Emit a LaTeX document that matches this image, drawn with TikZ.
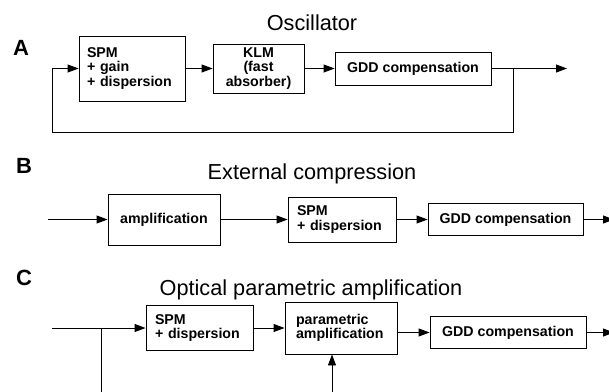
\documentclass[tikz,border=0pt]{standalone}
\usepackage{fontspec}
\setmainfont{Liberation Sans}
\usetikzlibrary{arrows.meta}
\hyphenpenalty=10000
\exhyphenpenalty=10000
\begin{document}
\begin{tikzpicture}[x=1pt,y=-1pt,
  box/.style={draw, line width=0.9pt, inner sep=0pt, font=\bfseries\fontsize{14.2}{14.5}\selectfont},
  conn/.style={line width=0.9pt, -{Triangle[length=11pt,width=8pt]}},
  wire/.style={line width=0.9pt},
  title/.style={font=\fontsize{21.7}{24}\selectfont},
  panel/.style={font=\bfseries\fontsize{22}{24}\selectfont}]
\useasboundingbox (0,0) rectangle (609,391);

% ---------- A ----------
\node[panel] (lA) at (21,48) {A};
\node[title] (tA) at (312,23) {Oscillator};
\node[box, minimum width=106pt, minimum height=65pt, text width=90pt, align=left] (spmA) at (132,68.5) {SPM\\+ gain\\+ dispersion};
\node[box, minimum width=91pt, minimum height=49pt, align=center] (klm) at (258.5,68.5) {KLM\\(fast\\absorber)};
\node[box, minimum width=156pt, minimum height=33pt, align=center] (gddA) at (413,68.5) {GDD compensation};
\coordinate (aL) at (52,68.5);
\coordinate (aJ) at (513,68.5);
\coordinate (aOut) at (567,68.5);
\coordinate (aBL) at (52,132);
\coordinate (aBR) at (513,132);
\draw[conn] (aL) -- (spmA.west);
\draw[conn] (spmA) -- (klm);
\draw[conn] (klm) -- (gddA);
\draw[wire] (gddA.east) -- (aJ);
\draw[conn] (aJ) -- (aOut);
\draw[wire] (aJ) -- (aBR) -- (aBL) -- (aL);

% ---------- B ----------
\node[panel] (lB) at (24,166) {B};
\node[title] (tB) at (312,174) {External compression};
\node[box, minimum width=112pt, minimum height=51pt, align=center] (amp) at (164,219.5) {amplification};
\node[box, minimum width=108pt, minimum height=45pt, text width=90pt, align=left] (spmB) at (342,219.5) {SPM\\+ dispersion};
\node[box, minimum width=155pt, minimum height=32pt, align=center] (gddB) at (505.5,219.5) {GDD compensation};
\coordinate (bIn) at (48,219.5);
\coordinate (bOut) at (614,219.5);
\draw[conn] (bIn) -- (amp.west);
\draw[conn] (amp) -- (spmB);
\draw[conn] (spmB) -- (gddB);
\draw[conn] (gddB.east) -- (bOut);

% ---------- C ----------
\node[panel] (lC) at (24,278) {C};
\node[title] (tC) at (311,290) {Optical parametric amplification};
\node[box, minimum width=107pt, minimum height=45pt, text width=89pt, align=left] (spmC) at (199.5,328) {SPM\\+ dispersion};
\node[box, minimum width=112pt, minimum height=52pt, text width=90pt, align=left] (param) at (341,328) {parametric\\amplification};
\node[box, minimum width=156pt, minimum height=32pt, align=center] (gddC) at (508,332.5) {GDD compensation};
\coordinate (cIn) at (52,328);
\coordinate (cJ) at (101,328);
\coordinate (cDown) at (101,392);
\coordinate (pump) at (332,392);
\coordinate (cOut) at (614,332.5);
\draw[wire] (cIn) -- (cJ);
\draw[conn] (cJ) -- (spmC.west);
\draw[wire] (cJ) -- (cDown);
\draw[conn] (spmC) -- (param);
\draw[conn] (param.east |- gddC) -- (gddC.west);
\draw[conn] (pump) -- (pump |- param.south);
\draw[conn] (gddC.east) -- (cOut);
\end{tikzpicture}
\end{document}
